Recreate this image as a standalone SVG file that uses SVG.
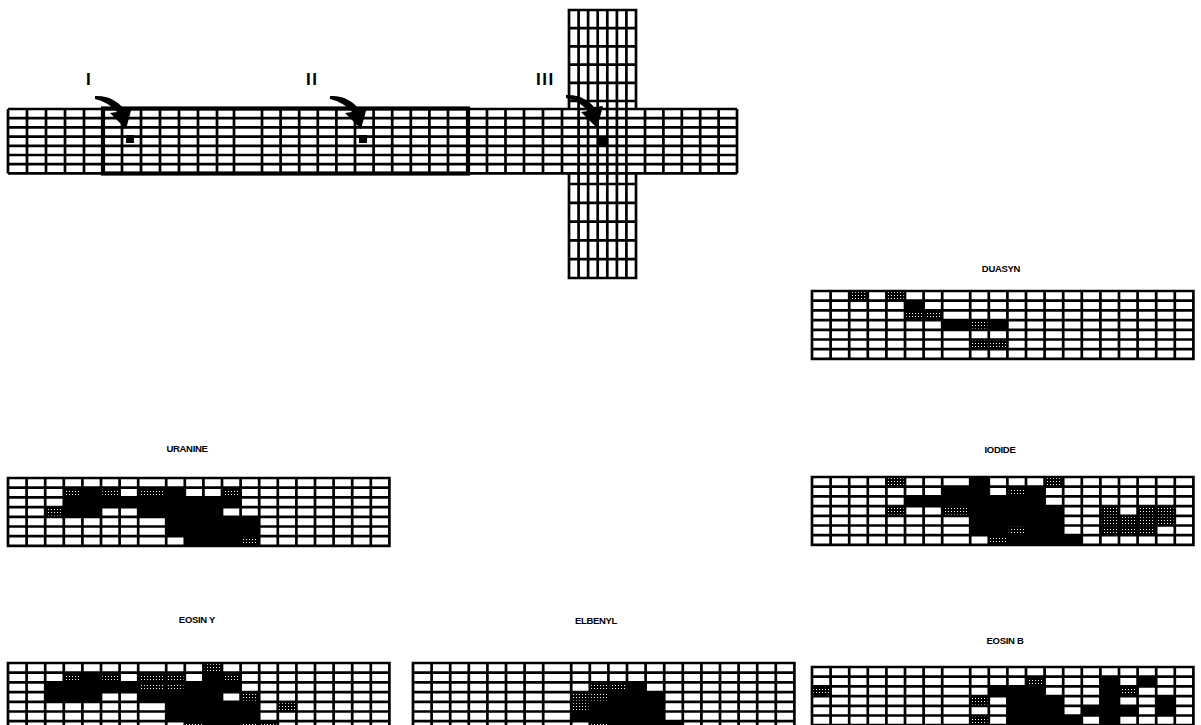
<svg xmlns="http://www.w3.org/2000/svg" xmlns:xlink="http://www.w3.org/1999/xlink" width="1201" height="725" viewBox="0 0 1201 725">
<style>
.ln{fill:none;stroke:#000;stroke-width:2.7}
.thick{fill:none;stroke:#000;stroke-width:4.2}
.k{fill:#000}
.s{fill:url(#sp)}
.lab{font-family:"Liberation Sans",Arial,sans-serif;font-weight:bold;font-size:9.5px;letter-spacing:-0.3px;text-anchor:middle;fill:#000}
.rom{font-family:"Liberation Sans",Arial,sans-serif;font-weight:bold;font-size:17px;letter-spacing:1.5px;fill:#000}
</style>
<defs>
<pattern id="sp" width="3" height="3" patternUnits="userSpaceOnUse"><rect width="3" height="3" fill="#000"/><rect x="1" y="1" width="1" height="1" fill="#fff"/></pattern>
<path id="grid" class="ln" d="M0,0H381.4V67.9H0Z M18.6,0V67.9 M37.2,0V67.9 M55.8,0V67.9 M74.4,0V67.9 M93,0V67.9 M111.6,0V67.9 M130.2,0V67.9 M158.2,0V67.9 M176.8,0V67.9 M195.4,0V67.9 M214,0V67.9 M232.6,0V67.9 M251.2,0V67.9 M269.8,0V67.9 M288.4,0V67.9 M307,0V67.9 M325.6,0V67.9 M344.2,0V67.9 M362.8,0V67.9 M0,9.7H381.4 M0,19.4H381.4 M0,29.1H381.4 M0,38.8H381.4 M0,48.5H381.4 M0,58.2H381.4"/>
<path id="arw" fill="#000" d="M0,0 C12,-1 23,5 28,12 L37,11 L31,33 L15,17 L22,16 C17,10 9,5 0,3 Z"/>
</defs>

<g id="channel">
<path class="ln" d="M8,109H737 M8,118.2H737 M8,127.4H737 M8,136.6H737 M8,145.8H737 M8,155H737 M8,164.2H737 M8,173.4H737
M8,109V173.4 M27,109V173.4 M46,109V173.4 M65,109V173.4 M84,109V173.4 M122,109V173.4 M141,109V173.4 M160,109V173.4 M179,109V173.4 M198,109V173.4 M217,109V173.4 M234,109V173.4 M262,109V173.4 M280.6,109V173.4 M299.2,109V173.4 M317.8,109V173.4 M336.4,109V173.4 M355,109V173.4 M373.6,109V173.4 M392.2,109V173.4 M410.8,109V173.4 M429.4,109V173.4 M448,109V173.4 M487,109V173.4 M505.5,109V173.4 M524,109V173.4 M543,109V173.4 M562,109V173.4 M645,109V173.4 M663.4,109V173.4 M681.8,109V173.4 M700.2,109V173.4 M718.6,109V173.4 M737,109V173.4
M578.6,10V278 M588.1,10V278 M597.7,10V278 M607.3,10V278 M616.9,10V278 M626.4,10V278
M569,109V10H636V109 M569,173.4V278H636V173.4
M569,28.2H636 M569,46.4H636 M569,64.6H636 M569,82.8H636 M569,101H636 M569,184H636 M569,202.8H636 M569,221.6H636 M569,240.4H636 M569,259.2H636"/>
<rect class="thick" x="103" y="108.5" width="365" height="65"/>
</g>

<g id="marker-I">
<text class="rom" x="86" y="85">I</text>
<use xlink:href="#arw" x="95" y="96"/>
<rect class="k" x="126" y="135" width="8" height="8"/>
</g>
<g id="marker-II">
<text class="rom" x="306" y="85">II</text>
<use xlink:href="#arw" x="330" y="96"/>
<rect class="k" x="359" y="135" width="8" height="8"/>
</g>
<g id="marker-III">
<text class="rom" x="536" y="85">III</text>
<use xlink:href="#arw" x="566" y="95"/>
<rect class="k" x="598" y="137" width="9" height="9"/>
</g>

<g id="duasyn">
<text class="lab" x="1001" y="272">DUASYN</text>
<g transform="translate(812,291)">
<rect class="s" x="37.2" y="0" width="18.6" height="9.7"/>
<rect class="s" x="74.4" y="0" width="18.6" height="9.7"/>
<rect class="k" x="93" y="9.7" width="18.6" height="9.7"/>
<rect class="s" x="93" y="19.4" width="37.2" height="9.7"/>
<rect class="k" x="130.2" y="29.1" width="65.2" height="9.7"/>
<rect class="s" x="158.2" y="29.1" width="18.6" height="9.7"/>
<rect class="s" x="158.2" y="48.5" width="37.2" height="9.7"/>
<use xlink:href="#grid"/>
</g>
</g>

<g id="uranine">
<text class="lab" x="187" y="452">URANINE</text>
<g transform="translate(8,478)">
<rect class="s" x="55.8" y="9.7" width="18.6" height="9.7"/>
<rect class="k" x="74.4" y="9.7" width="18.6" height="9.7"/>
<rect class="s" x="93" y="9.7" width="18.6" height="9.7"/>
<rect class="s" x="130.2" y="9.7" width="28" height="9.7"/>
<rect class="k" x="158.2" y="9.7" width="18.6" height="9.7"/>
<rect class="s" x="214" y="9.7" width="18.6" height="9.7"/>
<rect class="k" x="55.8" y="19.4" width="176.8" height="9.7"/>
<rect class="s" x="37.2" y="29.1" width="18.6" height="9.7"/>
<rect class="k" x="55.8" y="29.1" width="37.2" height="9.7"/>
<rect class="k" x="130.2" y="29.1" width="83.8" height="9.7"/>
<rect class="k" x="158.2" y="38.8" width="93" height="19.4"/>
<rect class="k" x="176.8" y="58.2" width="55.8" height="9.7"/>
<rect class="s" x="232.6" y="58.2" width="18.6" height="9.7"/>
<use xlink:href="#grid"/>
</g>
</g>

<g id="iodide">
<text class="lab" x="1000" y="453">IODIDE</text>
<g transform="translate(812,477)">
<rect class="s" x="74.4" y="0" width="18.6" height="9.7"/>
<rect class="k" x="158.2" y="0" width="18.6" height="9.7"/>
<rect class="s" x="232.6" y="0" width="18.6" height="9.7"/>
<rect class="k" x="130.2" y="9.7" width="46.6" height="9.7"/>
<rect class="s" x="195.4" y="9.7" width="18.6" height="9.7"/>
<rect class="k" x="214" y="9.7" width="18.6" height="9.7"/>
<rect class="k" x="93" y="19.4" width="139.6" height="9.7"/>
<rect class="s" x="74.4" y="29.1" width="18.6" height="9.7"/>
<rect class="s" x="130.2" y="29.1" width="28" height="9.7"/>
<rect class="k" x="158.2" y="29.1" width="93" height="19.4"/>
<rect class="s" x="288.4" y="29.1" width="18.6" height="9.7"/>
<rect class="s" x="325.6" y="29.1" width="37.2" height="9.7"/>
<rect class="s" x="288.4" y="38.8" width="74.4" height="9.7"/>
<rect class="k" x="158.2" y="48.5" width="37.2" height="9.7"/>
<rect class="s" x="195.4" y="48.5" width="18.6" height="9.7"/>
<rect class="k" x="214" y="48.5" width="37.2" height="9.7"/>
<rect class="s" x="288.4" y="48.5" width="55.8" height="9.7"/>
<rect class="s" x="176.8" y="58.2" width="18.6" height="9.7"/>
<rect class="k" x="195.4" y="58.2" width="74.4" height="9.7"/>
<use xlink:href="#grid"/>
</g>
</g>

<g id="eosin-y">
<text class="lab" x="197" y="623">EOSIN Y</text>
<g transform="translate(8,663)">
<rect class="s" x="195.4" y="0" width="18.6" height="9.7"/>
<rect class="s" x="55.8" y="9.7" width="18.6" height="9.7"/>
<rect class="k" x="74.4" y="9.7" width="18.6" height="9.7"/>
<rect class="s" x="93" y="9.7" width="18.6" height="9.7"/>
<rect class="s" x="130.2" y="9.7" width="46.6" height="9.7"/>
<rect class="k" x="195.4" y="9.7" width="18.6" height="9.7"/>
<rect class="s" x="214" y="9.7" width="18.6" height="9.7"/>
<rect class="k" x="37.2" y="19.4" width="93" height="9.7"/>
<rect class="s" x="130.2" y="19.4" width="46.6" height="9.7"/>
<rect class="k" x="176.8" y="19.4" width="55.8" height="9.7"/>
<rect class="k" x="37.2" y="29.1" width="55.8" height="9.7"/>
<rect class="k" x="130.2" y="29.1" width="83.8" height="9.7"/>
<rect class="s" x="232.6" y="29.1" width="18.6" height="9.7"/>
<rect class="k" x="158.2" y="38.8" width="93" height="19.4"/>
<rect class="s" x="269.8" y="38.8" width="18.6" height="9.7"/>
<rect class="s" x="176.8" y="58.2" width="18.6" height="9.7"/>
<rect class="k" x="195.4" y="58.2" width="37.2" height="9.7"/>
<rect class="s" x="232.6" y="58.2" width="37.2" height="9.7"/>
<use xlink:href="#grid"/>
</g>
</g>

<g id="elbenyl">
<text class="lab" x="596" y="624">ELBENYL</text>
<g transform="translate(413,663)">
<rect class="s" x="176.8" y="19.4" width="37.2" height="9.7"/>
<rect class="k" x="214" y="19.4" width="18.6" height="9.7"/>
<rect class="s" x="158.2" y="29.1" width="37.2" height="9.7"/>
<rect class="k" x="195.4" y="29.1" width="55.8" height="9.7"/>
<rect class="s" x="158.2" y="38.8" width="18.6" height="9.7"/>
<rect class="k" x="176.8" y="38.8" width="74.4" height="9.7"/>
<rect class="k" x="158.2" y="48.5" width="93" height="9.7"/>
<rect class="s" x="176.8" y="58.2" width="18.6" height="9.7"/>
<rect class="k" x="195.4" y="58.2" width="74.4" height="9.7"/>
<use xlink:href="#grid"/>
</g>
</g>

<g id="eosin-b">
<text class="lab" x="1005" y="644">EOSIN B</text>
<g transform="translate(812,667)">
<rect class="s" x="214" y="9.7" width="18.6" height="9.7"/>
<rect class="k" x="288.4" y="9.7" width="18.6" height="58.2"/>
<rect class="k" x="325.6" y="9.7" width="18.6" height="9.7"/>
<rect class="s" x="0" y="19.4" width="18.6" height="9.7"/>
<rect class="k" x="176.8" y="19.4" width="55.8" height="9.7"/>
<rect class="s" x="307" y="19.4" width="18.6" height="9.7"/>
<rect class="s" x="158.2" y="29.1" width="18.6" height="9.7"/>
<rect class="k" x="195.4" y="29.1" width="55.8" height="38.8"/>
<rect class="k" x="344.2" y="29.1" width="18.6" height="19.4"/>
<rect class="k" x="269.8" y="38.8" width="55.8" height="9.7"/>
<rect class="s" x="158.2" y="48.5" width="18.6" height="9.7"/>
<rect class="k" x="251.2" y="48.5" width="18.6" height="19.4"/>
<use xlink:href="#grid"/>
</g>
</g>
</svg>
